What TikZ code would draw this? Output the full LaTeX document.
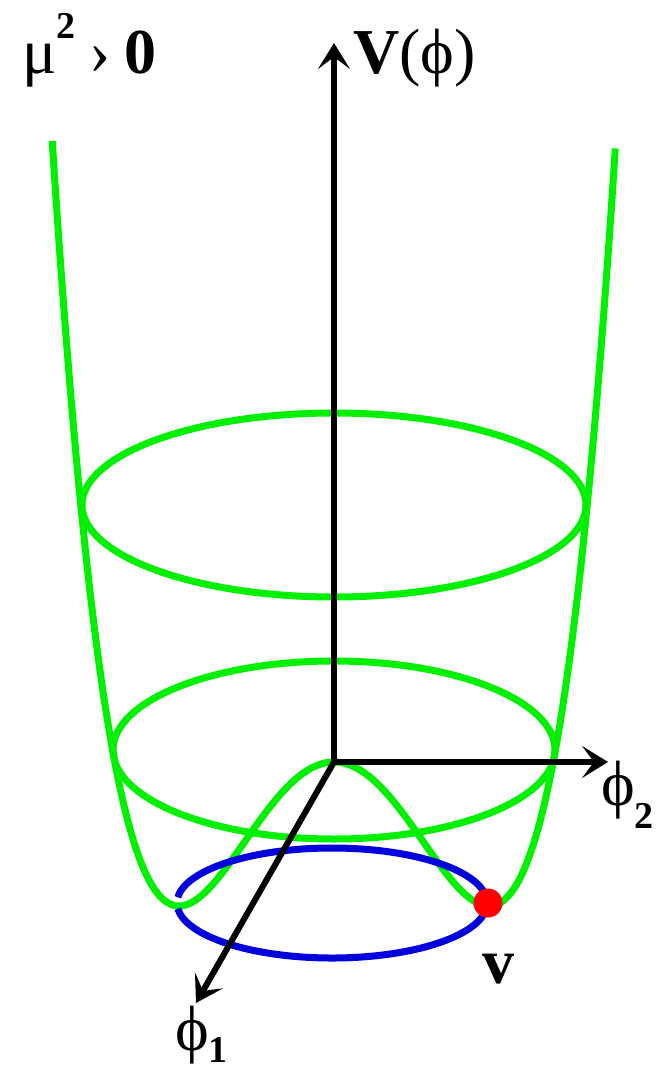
\documentclass[tikz,border=0pt]{standalone}
\usepackage{fontspec}
\setmainfont{Liberation Serif}
\usetikzlibrary{arrows.meta}
\definecolor{hatgreen}{RGB}{0,240,0}
\definecolor{ringblue}{RGB}{0,0,220}
\definecolor{dotred}{RGB}{255,0,0}
\newcommand\bigfont{\fontsize{64}{70}\selectfont}
\newcommand\subfont{\fontsize{38}{40}\selectfont}
\begin{document}
\begin{tikzpicture}[x=1pt,y=-1pt,
  axisline/.style={line width=6pt,black,-{Stealth[length=26pt,width=32pt,inset=12pt]}},
  greenline/.style={line width=7pt,hatgreen},
  blueline/.style={line width=7pt,ringblue},
  lbl/.style={font=\bigfont,inner sep=0pt}]
\useasboundingbox (0,0) rectangle (666,1074);
% coordinates
\coordinate (O) at (334,762);
\coordinate (Vtip) at (334,43);
\coordinate (P2tip) at (608,762);
\coordinate (P1tip) at (196,1003);
% potential cross-section
\draw[greenline] plot[domain=-1.818:1.818,samples=241,smooth] ({334+155*\x},{906-144*(\x*\x-1)^2});
% level rings
\draw[greenline] (334,505) ellipse [x radius=252, y radius=92];
\draw[greenline] (334,750) ellipse [x radius=221, y radius=89];
% vacuum ring
\draw[blueline] (332,903) ++(186:155 and 55) arc [start angle=186, end angle=534, x radius=155, y radius=55];
% axes
\draw[axisline] (O) -- (Vtip);
\draw[axisline] (O) -- (P2tip);
\draw[axisline] (O) -- (P1tip);
% vacuum point
\node[circle, fill=dotred, minimum size=29pt, inner sep=0pt] (dot) at (488,903) {};
% labels
\node[lbl, anchor=base west] (mu) at (22,73) {μ\raisebox{35pt}{\subfont\textbf{2}}\hspace{14pt}›\hspace{14pt}\textbf{0}};
\node[lbl, anchor=base west] (vphi) at (353,73) {\textbf{V}(ϕ)};
\node[lbl, anchor=base west] (phi2) at (601,805) {ϕ\raisebox{-23pt}{\subfont\textbf{2}}};
\node[lbl, anchor=base west] (phi1) at (175,1050) {ϕ\raisebox{-12pt}{\subfont\textbf{1}}};
\node[lbl, anchor=base west] (vlbl) at (482,983) {\textbf{v}};
\end{tikzpicture}
\end{document}
